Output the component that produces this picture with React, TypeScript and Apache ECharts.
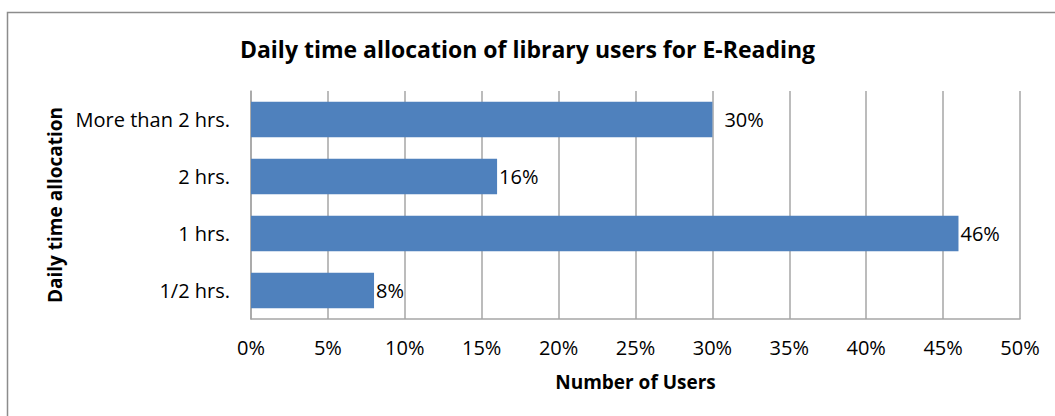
import React, { useEffect, useRef } from "react";
import * as echarts from "echarts";

const categories = ["1/2 hrs.", "1 hrs.", "2 hrs.", "More than 2 hrs."];
const values = [8, 46, 16, 30];
const labelDistances = [2, 2, 2, 12];
const xTicks = [0, 5, 10, 15, 20, 25, 30, 35, 40, 45, 50];

const FONT = "Open Sans";

export default function App() {
  const ref = useRef<HTMLDivElement>(null);
  useEffect(() => {
    if (!ref.current) return;
    const chart = echarts.init(ref.current, undefined, { renderer: "svg" });
    chart.setOption({
      animation: false,
      backgroundColor: "#ffffff",
      textStyle: { fontFamily: FONT },
      title: {
        text: "Daily time allocation of library users for E-Reading",
        left: "center",
        top: 32,
        textStyle: { fontFamily: FONT, fontSize: 23, fontWeight: "bold", color: "#000" },
      },
      graphic: [
        {
          type: "rect",
          shape: { x: 7.5, y: 12.5, width: 1100, height: 500 },
          style: { fill: "none", stroke: "#8c8c8c", lineWidth: 1.5 },
          silent: true,
        },
      ],
      grid: { left: 251, right: 35, top: 91, bottom: 97, containLabel: false },
      xAxis: {
        type: "value",
        min: xTicks[0],
        max: xTicks[xTicks.length - 1],
        interval: 5,
        name: "Number of Users",
        nameLocation: "middle",
        nameGap: 53,
        nameTextStyle: { fontFamily: FONT, fontSize: 19, fontWeight: "bold", color: "#000" },
        axisLabel: {
          formatter: (v: number) => v + "%",
          fontFamily: FONT,
          fontSize: 20,
          color: "#000",
          margin: 18,
        },
        axisLine: { show: true, lineStyle: { color: "#a6a6a6", width: 1.5 } },
        axisTick: { show: false },
        splitLine: { show: true, lineStyle: { color: "#a6a6a6", width: 1.5 } },
      },
      yAxis: {
        type: "category",
        data: categories,
        name: "Daily time allocation",
        nameLocation: "middle",
        nameGap: 187,
        nameRotate: 90,
        nameTextStyle: { fontFamily: FONT, fontSize: 19, fontWeight: "bold", color: "#000" },
        axisLabel: { fontFamily: FONT, fontSize: 20, color: "#000", margin: 21 },
        axisLine: { show: true, lineStyle: { color: "#a6a6a6", width: 1.5 } },
        axisTick: { show: false },
      },
      series: [
        {
          type: "bar",
          barCategoryGap: "38%",
          data: values.map((v, i) => ({
            value: v,
            label: { distance: labelDistances[i] },
          })),
          itemStyle: { color: "#4f81bd" },
          label: {
            show: true,
            position: "right",
            formatter: (p: any) => p.value + "%",
            fontFamily: FONT,
            fontSize: 20,
            color: "#000",
          },
        },
      ],
    });
    return () => chart.dispose();
  }, []);
  return (
    <div
      ref={ref}
      style={{ position: "fixed", left: 0, top: 0, width: 1055, height: 416 }}
    />
  );
}
